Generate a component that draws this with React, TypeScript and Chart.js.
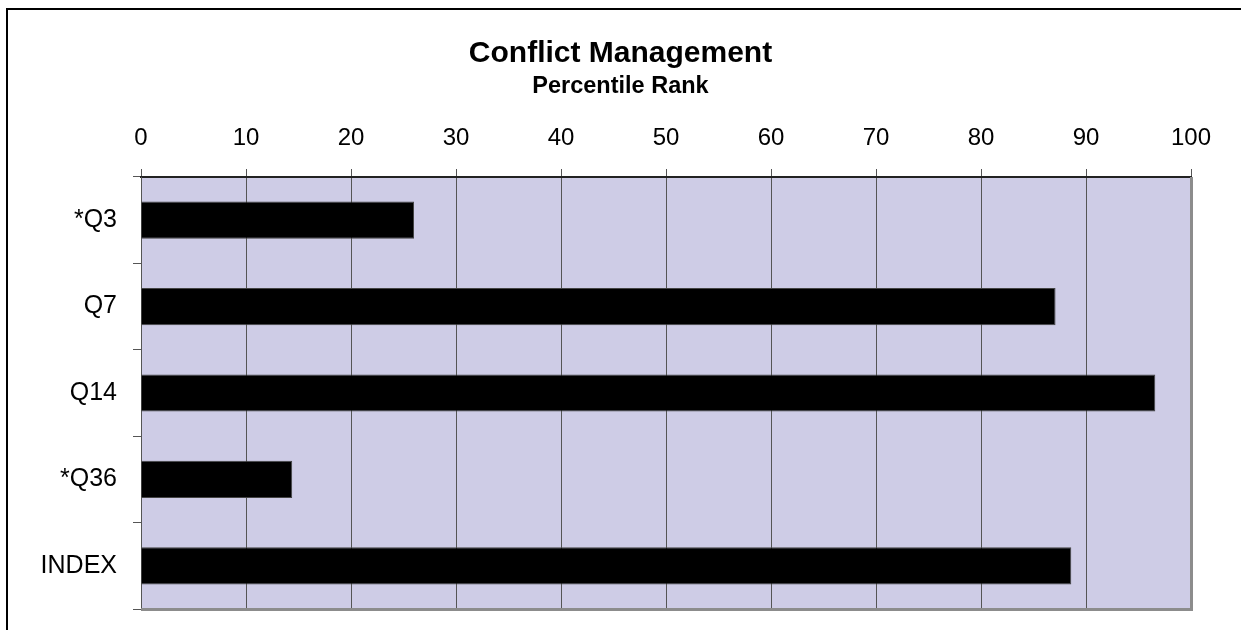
import React, { useEffect, useRef } from "react";
import { Chart, registerables } from "chart.js";

Chart.register(...registerables);

const categories = ["*Q3", "Q7", "Q14", "*Q36", "INDEX"];
const percentileValues = [26, 87.1, 96.6, 14.4, 88.6];
const axisMin = 0;
const axisMax = 100;
const axisStep = 10;
const chartTitle = "Conflict Management";
const chartSubtitle = "Percentile Rank";

const FONT = "'Liberation Sans', Arial, sans-serif";
const W = 1241;
const H = 630;

const framePlugin = {
  id: "frameAndPlot",
  beforeDraw(chart: any) {
    const { ctx, chartArea } = chart;
    const { left, top, right, bottom } = chartArea;
    ctx.save();
    ctx.strokeStyle = "#000";
    ctx.lineWidth = 2;
    ctx.beginPath();
    ctx.moveTo(7, chart.height + 10);
    ctx.lineTo(7, 9);
    ctx.lineTo(chart.width + 10, 9);
    ctx.stroke();
    ctx.fillStyle = "rgb(206,204,230)";
    ctx.fillRect(left, top, right - left, bottom - top);
    ctx.restore();
  },
  afterDatasetsDraw(chart: any) {
    const { ctx, chartArea } = chart;
    const { left, top, right, bottom } = chartArea;
    ctx.save();
    ctx.strokeStyle = "#8c8c8c";
    ctx.lineWidth = 3;
    ctx.beginPath();
    ctx.moveTo(right + 0.5, top);
    ctx.lineTo(right + 0.5, bottom + 0.5);
    ctx.lineTo(left, bottom + 0.5);
    ctx.stroke();
    ctx.restore();
  },
};

export default function App() {
  const ref = useRef<HTMLCanvasElement | null>(null);

  useEffect(() => {
    if (!ref.current) return;
    const chart = new Chart(ref.current, {
      type: "bar",
      data: {
        labels: categories,
        datasets: [
          {
            data: percentileValues,
            backgroundColor: "#000",
            borderColor: "#444",
            borderWidth: 1,
            barPercentage: 0.43,
            categoryPercentage: 1,
          },
        ],
      },
      options: {
        indexAxis: "y",
        animation: false,
        responsive: false,
        maintainAspectRatio: false,
        layout: { padding: { left: 0, right: 0, top: 0, bottom: 21 } },
        plugins: {
          legend: { display: false },
          tooltip: { enabled: false },
          title: {
            display: true,
            text: chartTitle,
            color: "#000",
            font: { family: FONT, size: 30, weight: "bold", lineHeight: 1.1 },
            padding: { top: 37.5, bottom: 0 },
          },
          subtitle: {
            display: true,
            text: chartSubtitle,
            color: "#000",
            font: { family: FONT, size: 23.5, weight: "bold" },
            padding: { top: 2.3, bottom: 0 },
          },
        },
        scales: {
          x: {
            type: "linear",
            position: "top",
            min: axisMin,
            max: axisMax,
            ticks: {
              stepSize: axisStep,
              color: "#000",
              padding: 16,
              font: { family: FONT, size: 24 },
            },
            grid: {
              color: "#555",
              lineWidth: 1,
              tickLength: 8,
              drawTicks: true,
            },
            border: { display: true, color: "#222", width: 2 },
            afterFit: (s: any) => {
              s.height = 76;
            },
          },
          y: {
            type: "category",
            position: "left",
            offset: true,
            ticks: {
              color: "#000",
              padding: 16,
              font: { family: FONT, size: 25 },
            },
            grid: {
              offset: true,
              drawOnChartArea: false,
              drawTicks: true,
              tickLength: 8,
              color: "#555",
            },
            border: { display: true, color: "#555", width: 1 },
            afterFit: (s: any) => {
              s.width = 141;
              s.paddingTop = 0;
              s.paddingBottom = 0;
            },
          },
          yRight: {
            type: "linear",
            position: "right",
            display: true,
            ticks: { display: false },
            grid: { display: false, drawTicks: false },
            border: { display: false },
            afterFit: (s: any) => {
              s.width = 50;
              s.paddingTop = 0;
              s.paddingBottom = 0;
            },
          },
        },
      },
      plugins: [framePlugin],
    } as any);
    return () => chart.destroy();
  }, []);

  return (
    <div
      style={{
        position: "fixed",
        left: 0,
        top: 0,
        width: W,
        height: H,
        overflow: "hidden",
        background: "#fff",
      }}
    >
      <canvas ref={ref} width={W} height={H} style={{ width: W, height: H, display: "block" }} />
    </div>
  );
}
